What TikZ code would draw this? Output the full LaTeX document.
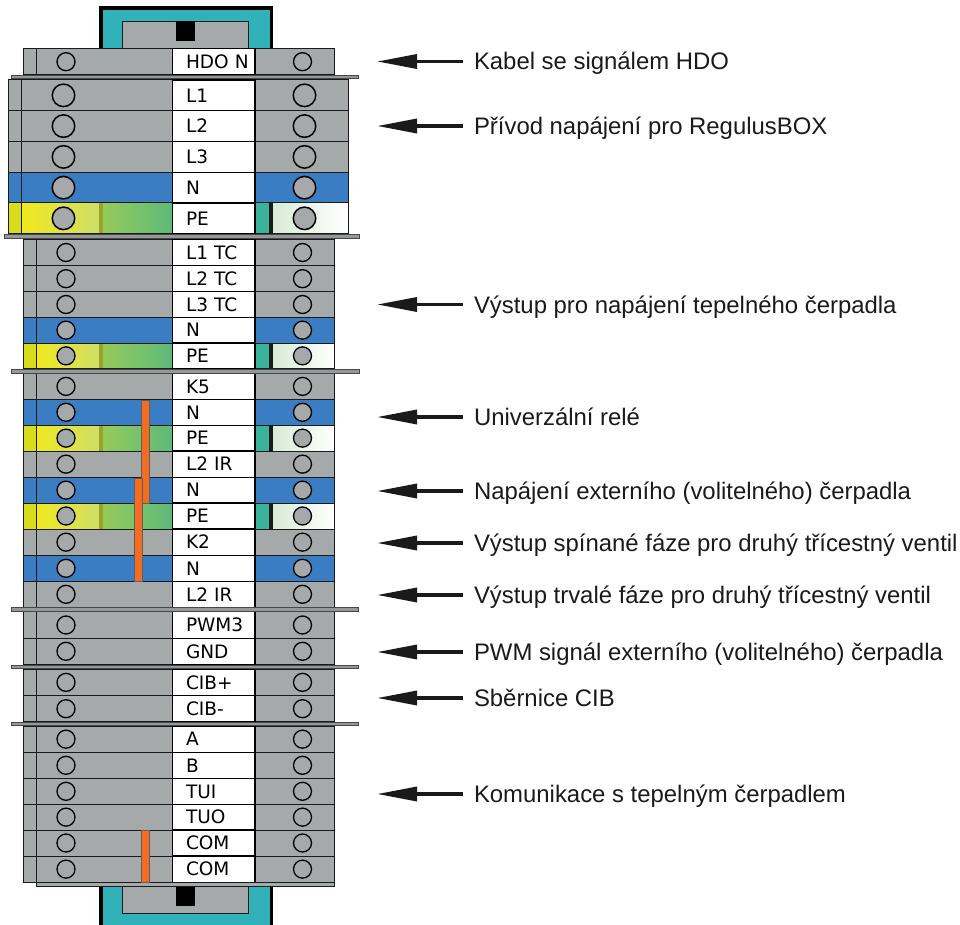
\documentclass[tikz,border=0pt]{standalone}
\usepackage{fontspec}
\setmainfont{Liberation Sans}
\newfontfamily\termfont{DejaVu Sans}
\usetikzlibrary{arrows.meta}
\definecolor{tgray}{HTML}{A6A9A9}
\definecolor{tblue}{HTML}{3A7DC2}
\definecolor{tteal}{HTML}{30B2B8}
\definecolor{tink}{HTML}{1A1A1A}
\definecolor{tora}{HTML}{F26C22}
\definecolor{tcap}{HTML}{D9DC1A}
\definecolor{tyel}{HTML}{F0E81F}
\definecolor{tyel2}{HTML}{CFDF66}
\definecolor{tolive}{HTML}{9AA224}
\definecolor{tgrn1}{HTML}{95CB5A}
\definecolor{tgrn2}{HTML}{5DB97A}
\definecolor{tpeteal}{HTML}{3BB39B}
\definecolor{tpale}{HTML}{D8ECD5}
\tikzset{
  x=1pt,y=-1pt,
  rowline/.style={draw=tink,line width=1pt},
  tag/.style={draw=black,fill=white,line width=1.4pt,outer sep=0pt,inner xsep=0pt,inner ysep=0pt,
     minimum width=82.5pt,text width=82.5pt,align=left,text height=13.5pt,text depth=0pt,
     font=\termfont\fontsize{18.5}{20}\selectfont},
  screw/.style={circle,draw=black,fill=tgray,line width=1.3pt,inner sep=0pt,outer sep=0pt},
  bar/.style={draw=tink!80,fill=tgray!90!black,line width=1pt},
  jumper/.style={draw=tink!70,fill=tora,line width=0.7pt},
  callout/.style={anchor=west,inner xsep=11pt,inner ysep=0pt,outer sep=0pt,text height=17pt,text depth=0pt,
     font=\fontsize{23.9}{26}\selectfont,text=tink},
  pointer/.style={draw=tink,line width=3.4pt,-{Triangle[length=40pt,width=14pt]}},
}
% #1 outer left, #2 cap edge, #3 outer right, #4 top, #5 bottom, #6 kind
\newcommand{\termbody}[6]{%
  \ifnum#6=0
    \path[rowline,fill=tgray] (#1,#4) rectangle (#2,#5);
    \path[rowline,fill=tgray] (#2,#4) rectangle (172.5,#5);
    \path[rowline,fill=tgray] (255,#4) rectangle (#3,#5);
  \fi
  \ifnum#6=1
    \path[rowline,fill=tblue] (#1,#4) rectangle (#2,#5);
    \path[rowline,fill=tblue] (#2,#4) rectangle (172.5,#5);
    \path[rowline,fill=tblue] (255,#4) rectangle (#3,#5);
  \fi
  \ifnum#6=2
    \shade[left color=tyel,right color=tyel2] (#2,#4) rectangle (99,#5);
    \fill[tolive] (99,#4) rectangle (103,#5);
    \shade[left color=tgrn1,right color=tgrn2] (103,#4) rectangle (172.5,#5);
    \fill[tpeteal] (255,#4) rectangle (269,#5);
    \fill[tink] (269,#4) rectangle (273,#5);
    \shade[left color=tpale,right color=white] (273,#4) rectangle (#3,#5);
    \path[rowline,fill=tcap] (#1,#4) rectangle (#2,#5);
    \path[rowline] (#2,#4) rectangle (172.5,#5);
    \path[rowline] (255,#4) rectangle (#3,#5);
  \fi
}
\newcommand{\medrow}[5]{%
  \termbody{23}{36}{334}{#1}{#2}{#3}%
  \node[tag,minimum height={(#2)-(#1)}] (t#4) at (213.75,{((#1)+(#2))/2}) {\hspace*{13.5pt}#5};
  \node[screw,minimum size=18pt] (l#4) at (66,{((#1)+(#2))/2}) {};
  \node[screw,minimum size=18pt] (r#4) at (302.5,{((#1)+(#2))/2}) {};
}
\newcommand{\bigrow}[5]{%
  \termbody{8}{21}{348}{#1}{#2}{#3}%
  \node[tag,minimum height={(#2)-(#1)}] (t#4) at (213.75,{((#1)+(#2))/2}) {\hspace*{13.5pt}#5};
  \node[screw,line width=1.5pt,minimum size=22.5pt] (l#4) at (63.5,{((#1)+(#2))/2}) {};
  \node[screw,line width=1.5pt,minimum size=22.5pt] (r#4) at (304.5,{((#1)+(#2))/2}) {};
}
\newcommand{\callout}[3]{%
  \coordinate (p#1) at (377,#2);
  \node[callout] (c#1) at (463,#2) {#3};
  \draw[pointer] (c#1.west) -- (p#1);
}
\begin{document}
\begin{tikzpicture}
\useasboundingbox (0,0) rectangle (960,925);
% DIN rail
\fill[black] (99,6) rectangle (273,925);
\fill[tteal] (102.5,10) rectangle (269.5,925);
\path[draw=tink,line width=0.9pt,fill=tgray] (122.5,21.5) rectangle (248,48.5);
\fill[black] (175.5,21.5) rectangle (195,41);
\path[draw=tink,line width=0.9pt,fill=tgray] (122.5,886) rectangle (248,913.5);
\fill[black] (175.5,886) rectangle (195,906);
% terminals
\medrow{48.7}{74.7}{0}{hdo}{HDO N}
\bigrow{80}{110.7}{0}{la}{L1}
\bigrow{110.7}{141.5}{0}{lb}{L2}
\bigrow{141.5}{172.3}{0}{lc}{L3}
\bigrow{172.3}{203}{1}{ln}{N}
\bigrow{203}{233.7}{2}{lpe}{PE}
\medrow{239.3}{265.7}{0}{tca}{L1 TC}
\medrow{265.7}{291.7}{0}{tcb}{L2 TC}
\medrow{291.7}{317.3}{0}{tcc}{L3 TC}
\medrow{317.3}{343}{1}{tcn}{N}
\medrow{343}{368.7}{2}{tcpe}{PE}
\medrow{373.5}{399.3}{0}{kf}{K5}
\medrow{399.3}{425.3}{1}{kfn}{N}
\medrow{425.3}{451}{2}{kfpe}{PE}
\medrow{451}{477.3}{0}{ira}{L2 IR}
\medrow{477.3}{503}{1}{iran}{N}
\medrow{503}{529}{2}{irape}{PE}
\medrow{529}{555.3}{0}{kt}{K2}
\medrow{555.3}{581.3}{1}{ktn}{N}
\medrow{581.3}{607.3}{0}{irb}{L2 IR}
\medrow{611.7}{638.3}{0}{pwm}{PWM3}
\medrow{638.3}{664.3}{0}{gnd}{GND}
\medrow{669}{695.7}{0}{cibp}{CIB+}
\medrow{695.7}{721.7}{0}{cibm}{CIB-}
\medrow{726}{752.3}{0}{a}{A}
\medrow{752.3}{778.3}{0}{b}{B}
\medrow{778.3}{804.3}{0}{tui}{TUI}
\medrow{804.3}{830}{0}{tuo}{TUO}
\medrow{830}{856}{0}{coma}{COM}
\medrow{856}{882.3}{0}{comb}{COM}
\path[draw=tink,line width=0.9pt,fill=tgray] (36,882.3) rectangle (334,886);
% separators
\path[bar] (11,75.2) rectangle (358.5,79);
\path[bar] (4.5,235) rectangle (359,238.8);
\path[bar] (11.5,369.6) rectangle (359,373);
\path[bar] (11.5,607.6) rectangle (358.5,611.2);
\path[bar] (11.5,665) rectangle (358.5,668.5);
\path[bar] (11.5,722.3) rectangle (358.5,725.5);
% jumpers
\path[jumper] (141.5,400) rectangle (149,503);
\path[jumper] (134.5,478) rectangle (142,581);
\path[jumper] (141.5,830) rectangle (149,882.3);
% callouts
\callout{hdo}{61.5}{Kabel se signálem HDO}
\callout{pow}{126}{Přívod napájení pro RegulusBOX}
\callout{tc}{304.5}{Výstup pro napájení tepelného čerpadla}
\callout{rel}{417}{Univerzální relé}
\callout{ext}{491}{Napájení externího (volitelného) čerpadla}
\callout{sw}{543}{Výstup spínané fáze pro druhý třícestný ventil}
\callout{perm}{595}{Výstup trvalé fáze pro druhý třícestný ventil}
\callout{pwm}{652}{PWM signál externího (volitelného) čerpadla}
\callout{cib}{698}{Sběrnice CIB}
\callout{com}{794}{Komunikace s tepelným čerpadlem}
\end{tikzpicture}
\end{document}
